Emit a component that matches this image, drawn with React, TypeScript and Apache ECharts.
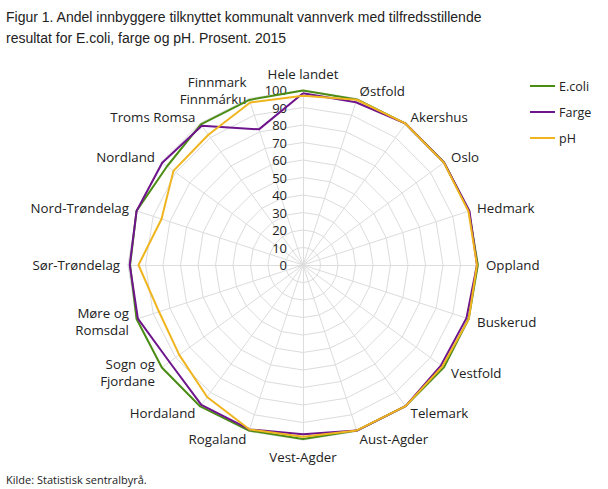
import React, { useEffect, useRef } from "react";
import * as echarts from "echarts";

const regions = [
  "Hele landet", "Østfold", "Akershus", "Oslo", "Hedmark", "Oppland", "Buskerud",
  "Vestfold", "Telemark", "Aust-Agder", "Vest-Agder", "Rogaland", "Hordaland",
  "Sogn og\nFjordane", "Møre og\nRomsdal", "Sør-Trøndelag", "Nord-Trøndelag",
  "Nordland", "Troms Romsa", "Finnmark\nFinnmárku",
];

const ecoli = [99.7, 99.5, 99.8, 99.6, 99.7, 99.9, 99.5, 99.5, 99.7, 99.5, 99.4, 99.5, 99.9, 99.7, 100, 98.8, 100, 96, 99.3, 99.2];
const farge = [98.2, 97.8, 99.8, 99.6, 100, 99.4, 98.2, 97.5, 99.7, 99.5, 96.7, 98.8, 98.8, 94.3, 99.2, 99.0, 100, 99.4, 98.4, 81.5];
const ph = [96.7, 99.3, 99.8, 99.5, 99.4, 99.4, 99.6, 98.5, 99.7, 99.4, 98.1, 98.8, 93.2, 87.4, 86.5, 94, 85, 91.5, 92, 97.6];

const seriesNames = ["E.coli", "Farge", "pH"];
const seriesColors = ["#4b8c14", "#6e148c", "#f0b41e"];

const scaleMin = 0;
const scaleMax = 100;
const scaleStep = 10;

const titleText = "Figur 1. Andel innbyggere tilknyttet kommunalt vannverk med tilfredsstillende\nresultat for E.coli, farge og pH. Prosent. 2015";
const sourceText = "Kilde: Statistisk sentralbyrå.";

export default function App() {
  const ref = useRef<HTMLDivElement>(null);
  useEffect(() => {
    if (!ref.current) return;
    const chart = echarts.init(ref.current, null, { renderer: "svg" });
    // ECharts places radar indicators counter-clockwise; reference runs clockwise
    const order = regions.map((_, i) => (i === 0 ? 0 : regions.length - i));
    const reorder = (arr: any[]) => order.map((i) => arr[i]);
    const cx = 303, cy = 265, R = 175;
    const font = "'Open Sans', sans-serif";
    chart.setOption({
      animation: false,
      title: [
        {
          text: titleText,
          left: 1,
          top: 1,
          textStyle: { fontFamily: "'Liberation Sans Narrow', sans-serif", fontSize: 14, fontWeight: "normal", color: "#222", lineHeight: 21 },
        },
        {
          text: sourceText,
          left: 1,
          top: 469,
          textStyle: { fontFamily: font, fontSize: 11, fontWeight: "normal", color: "#222" },
        },
      ],
      legend: {
        orient: "vertical",
        left: 525,
        top: 73,
        icon: "rect",
        itemWidth: 25,
        itemHeight: 2,
        itemGap: 10,
        data: seriesNames,
        textStyle: { fontFamily: font, fontSize: 12.5, color: "#222", lineHeight: 16, padding: [0, 0, 0, -1] },
      },
      radar: {
        center: [cx, cy],
        radius: R,
        shape: "polygon",
        startAngle: 90,
        splitNumber: (scaleMax - scaleMin) / scaleStep,
        indicator: reorder(regions).map((name) => ({ name, min: scaleMin, max: scaleMax })),
        axisName: { color: "#222", fontSize: 13.3, fontFamily: font, lineHeight: 17 },
        nameGap: 8,
        axisLine: { lineStyle: { color: "#dcdcdc", width: 1 } },
        splitLine: { lineStyle: { color: "#dcdcdc", width: 1 } },
        splitArea: { show: false },
        axisLabel: { show: false },
        axisTick: { show: false },
      },
      grid: { left: cx, top: cy - R, width: 1, height: R },
      xAxis: { type: "value", show: false },
      yAxis: {
        type: "value",
        min: scaleMin,
        max: scaleMax,
        interval: scaleStep,
        axisLine: { show: false },
        axisTick: { show: false },
        splitLine: { show: false },
        axisLabel: { margin: 16, fontSize: 13, fontFamily: font, color: "#222" },
      },
      series: [
        {
          type: "radar",
          symbol: "none",
          data: [ecoli, farge, ph].map((vals, k) => ({
            name: seriesNames[k],
            value: reorder(vals),
            lineStyle: { color: seriesColors[k], width: 2 },
            itemStyle: { color: seriesColors[k] },
            symbol: "none",
          })),
        },
      ],
    });
    return () => chart.dispose();
  }, []);
  return <div ref={ref} style={{ position: "absolute", left: 0, top: 0, width: 608, height: 489 }} />;
}
